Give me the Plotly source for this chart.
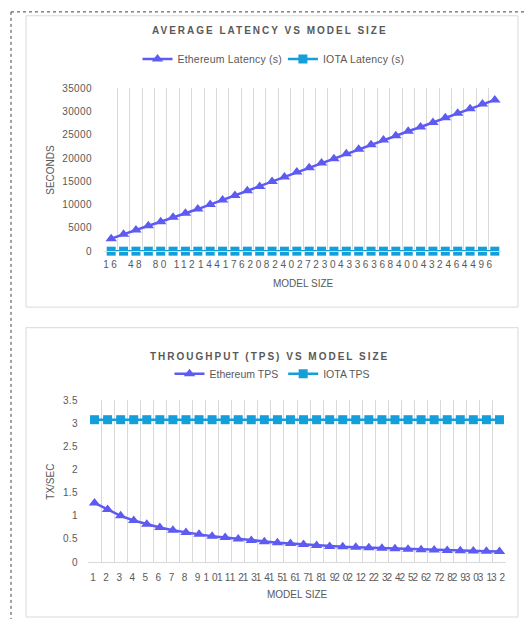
import plotly.graph_objects as go

# ---------------- data ----------------
model_sizes = [16 * (i + 1) for i in range(32)]          # 16 .. 512
eth_latency = [2700, 3650, 4570, 5480, 6320, 7310, 8150, 9060, 10050, 11030,
               11950, 13000, 13910, 14970, 15950, 17010, 17920, 18970, 19880, 20930,
               21920, 22910, 23880, 24810, 25780, 26710, 27680, 28670, 29660, 30630,
               31620, 32530]
iota_latency = [6] * 32

tps_sizes = list(range(1, 33))
eth_tps = [1.28, 1.14, 1.00, 0.90, 0.82, 0.75, 0.69, 0.64, 0.60, 0.56,
           0.53, 0.50, 0.47, 0.44, 0.42, 0.40, 0.38, 0.36, 0.34, 0.33,
           0.32, 0.31, 0.30, 0.29, 0.28, 0.27, 0.26, 0.25, 0.245, 0.24,
           0.235, 0.23]
iota_tps = [3.08] * 32

top_x = [str(v) for v in model_sizes]
top_ticktext = [s if i % 2 == 0 else "" for i, s in enumerate(top_x)]
bot_x = [str(v) for v in tps_sizes]

# ---------------- style ----------------
W, H = 527, 625
ETH = "#5E5BF2"
IOTA = "#159FDA"
GRID = "#D9D9D9"
TXT = "#595959"
FONT = "Liberation Sans, Arial, sans-serif"

def px(x):
    return x / W

def py(y):
    return 1 - y / H

fig = go.Figure()

fig.add_trace(go.Scatter(x=top_x, y=eth_latency, name="Ethereum Latency (s)",
                         mode="lines+markers", line=dict(color=ETH, width=2.5),
                         marker=dict(symbol="triangle-up", size=10, color=ETH),
                         cliponaxis=False, xaxis="x", yaxis="y", legend="legend"))
fig.add_trace(go.Scatter(x=top_x, y=iota_latency, name="IOTA Latency (s)",
                         mode="lines+markers", line=dict(color=IOTA, width=2.5),
                         marker=dict(symbol="square", size=9, color=IOTA),
                         cliponaxis=False, xaxis="x", yaxis="y", legend="legend"))
fig.add_trace(go.Scatter(x=bot_x, y=eth_tps, name="Ethereum TPS",
                         mode="lines+markers", line=dict(color=ETH, width=2.5),
                         marker=dict(symbol="triangle-up", size=10, color=ETH),
                         cliponaxis=False, xaxis="x2", yaxis="y2", legend="legend2"))
fig.add_trace(go.Scatter(x=bot_x, y=iota_tps, name="IOTA TPS",
                         mode="lines+markers", line=dict(color=IOTA, width=2.5),
                         marker=dict(symbol="square", size=9, color=IOTA),
                         cliponaxis=False, xaxis="x2", yaxis="y2", legend="legend2"))

tickfont = dict(family=FONT, size=10, color=TXT)

fig.update_layout(
    width=W, height=H,
    margin=dict(l=0, r=0, t=0, b=0),
    paper_bgcolor="white", plot_bgcolor="white",
    font=dict(family=FONT, size=10, color=TXT),
    xaxis=dict(domain=[px(105), px(501)], anchor="y", type="category",
               range=[-0.5, 31.5], tickmode="array", tickvals=top_x, ticktext=top_ticktext,
               tickson="boundaries", showgrid=True, gridcolor=GRID, gridwidth=1,
               showline=True, linecolor=GRID, ticks="", tickfont=tickfont, tickangle=0,
               ticklabelstandoff=4, zeroline=False, fixedrange=True),
    yaxis=dict(domain=[py(250), py(84)], anchor="x", range=[0, 35000],
               tickvals=[0, 5000, 10000, 15000, 20000, 25000, 30000, 35000],
               showgrid=False, zeroline=False, showline=False, ticks="",
               tickfont=tickfont, ticklabelstandoff=12, tickformat="d"),
    xaxis2=dict(domain=[px(88), px(506)], anchor="y2", type="category",
                range=[-0.5, 31.5], tickmode="array", tickvals=bot_x, ticktext=bot_x,
                tickson="boundaries", showgrid=True, gridcolor=GRID, gridwidth=1,
                showline=True, linecolor=GRID, ticks="", tickfont=tickfont, tickangle=0,
                ticklabelstandoff=6, zeroline=False),
    yaxis2=dict(domain=[py(567), py(402)], anchor="x2", range=[0, 3.5],
                tickvals=[0, 0.5, 1, 1.5, 2, 2.5, 3, 3.5],
                ticktext=["0", "0.5", "1", "1.5", "2", "2.5", "3", "3.5"],
                showgrid=False, zeroline=False, showline=False, ticks="",
                tickfont=tickfont, ticklabelstandoff=9),
    legend=dict(orientation="h", x=px(272), xanchor="center", y=py(54), yanchor="middle",
                font=dict(family=FONT, size=10.5, color=TXT), bgcolor="rgba(0,0,0,0)",
                itemwidth=30, tracegroupgap=0),
    legend2=dict(orientation="h", x=px(272), xanchor="center", y=py(375), yanchor="middle",
                 font=dict(family=FONT, size=10.5, color=TXT), bgcolor="rgba(0,0,0,0)",
                 itemwidth=30, tracegroupgap=0),
    showlegend=True,
)

annos = [
    dict(text="<b>AVERAGE LATENCY VS MODEL SIZE</b>", x=px(270), y=py(25),
         font=dict(family=FONT, size=10, color=TXT)),
    dict(text="<b>THROUGHPUT (TPS) VS MODEL SIZE</b>", x=px(270), y=py(357),
         font=dict(family=FONT, size=10, color=TXT)),
    dict(text="SECONDS", x=px(51), y=py(167), textangle=-90,
         font=dict(family=FONT, size=10, color=TXT)),
    dict(text="MODEL SIZE", x=px(303), y=py(283),
         font=dict(family=FONT, size=10, color=TXT)),
    dict(text="TX/SEC", x=px(51), y=py(485), textangle=-90,
         font=dict(family=FONT, size=10, color=TXT)),
    dict(text="MODEL SIZE", x=px(297), y=py(600),
         font=dict(family=FONT, size=10, color=TXT)),
]
for a in annos:
    fig.add_annotation(xref="paper", yref="paper", showarrow=False,
                       xanchor="center", yanchor="middle", **a)

shapes = [
    dict(type="rect", x0=px(26), x1=px(518), y0=py(307), y1=py(10),
         line=dict(color=GRID, width=1)),
    dict(type="rect", x0=px(26), x1=px(518), y0=py(623), y1=py(328),
         line=dict(color=GRID, width=1)),
    dict(type="line", x0=px(11), x1=1, y0=py(6), y1=py(6),
         line=dict(color="#444444", width=1, dash="dot")),
    dict(type="line", x0=px(11), x1=px(11), y0=py(6), y1=0,
         line=dict(color="#444444", width=1, dash="dot")),
]
for s in shapes:
    fig.add_shape(xref="paper", yref="paper", layer="below", **s)

css = (
    '.annotation[data-index="0"] text, .annotation[data-index="1"] text {letter-spacing: 2px;}'
    '.xtick text {letter-spacing: 2.5px;}'
    '.x2tick text {letter-spacing: 3px;}'
    '.ytick text, .y2tick text {letter-spacing: 0.4px;}'
    '.legendtext {letter-spacing: 0.2px;}'
)
post = ("var s=document.createElement('style');s.textContent='" + css.replace("'", "\\'") +
        "';document.head.appendChild(s);")

fig.write_html("out.html", post_script=post)
